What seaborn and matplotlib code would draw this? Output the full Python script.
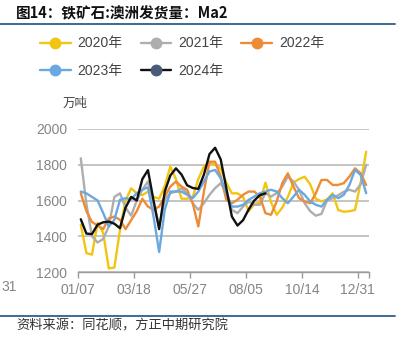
import numpy as np
import pandas as pd
import matplotlib
matplotlib.use("Agg")
import matplotlib.pyplot as plt
from matplotlib.lines import Line2D
import seaborn as sns

# ---------------- data ----------------
tick_labels = ["01/07", "03/18", "05/27", "08/05", "10/14", "12/31"]
tick_pos = [0, 10, 20, 30, 40, 50]
years = ["2020年", "2021年", "2022年", "2023年", "2024年"]

v2020 = [1464, 1306, 1297, 1474, 1420, 1220, 1225, 1435, 1600, 1668, 1640, 1630, 1650, 1620, 1610,
         1680, 1790, 1720, 1610, 1610, 1620, 1720, 1790, 1810, 1800, 1780, 1700, 1640, 1640, 1620,
         1540, 1580, 1590, 1700, 1590, 1520, 1560, 1620, 1700, 1720, 1733, 1690, 1610, 1595, 1605,
         1640, 1547, 1537, 1540, 1547, 1700, 1873]
v2021 = [1836, 1580, 1400, 1365, 1385, 1455, 1620, 1640, 1560, 1515, 1600, 1660, 1706, 1585, 1455,
         1604, 1641, 1650, 1669, 1641, 1585, 1548, 1585, 1632, 1669, 1697, 1641, 1548, 1529, 1566,
         1594, 1576, 1576, 1641, 1622, 1641, 1678, 1734, 1706, 1660, 1585, 1540, 1515, 1525, 1600,
         1613, 1630, 1649, 1660, 1650, 1690, 1800]
v2022 = [1641, 1540, 1480, 1460, 1440, 1500, 1510, 1492, 1440, 1490, 1540, 1610, 1566, 1548, 1566,
         1622, 1678, 1706, 1678, 1660, 1585, 1455, 1650, 1817, 1817, 1734, 1604, 1585, 1604, 1632,
         1650, 1650, 1622, 1529, 1520, 1594, 1697, 1752, 1678, 1613, 1594, 1585, 1641, 1715, 1715,
         1687, 1687, 1697, 1734, 1780, 1752, 1687]
v2023 = [1650, 1640, 1620, 1600, 1530, 1455, 1492, 1604, 1613, 1607, 1641, 1660, 1674, 1510, 1312,
         1548, 1650, 1650, 1650, 1632, 1613, 1650, 1706, 1762, 1771, 1725, 1641, 1566, 1566, 1576,
         1604, 1622, 1641, 1650, 1660, 1650, 1613, 1585, 1622, 1660, 1632, 1594, 1576, 1566, 1604,
         1632, 1613, 1632, 1687, 1771, 1743, 1641]
v2024 = [1495, 1415, 1412, 1465, 1478, 1482, 1470, 1445, 1560, 1620, 1600, 1720, 1770, 1600, 1440,
         1650, 1740, 1780, 1745, 1685, 1670, 1665, 1745, 1860, 1895, 1830, 1670, 1510, 1460, 1490,
         1550, 1600, 1630, 1640]

line_colors = {"2020年": "#F2C511", "2021年": "#AEAEAE", "2022年": "#EE8B37",
               "2023年": "#6AA8E0", "2024年": "#111111"}
marker_colors = {"2020年": "#F2C511", "2021年": "#AEAEAE", "2022年": "#EE8B37",
                 "2023年": "#6AA8E0", "2024年": "#4A5B7A"}

series = {"2020年": v2020, "2021年": v2021, "2022年": v2022, "2023年": v2023, "2024年": v2024}
frames = []
for y, vals in series.items():
    frames.append(pd.DataFrame({"week": np.arange(len(vals)) + 0.5, "value": vals, "year": y}))
df = pd.concat(frames, ignore_index=True)

# ---------------- style ----------------
sns.set_theme(style="white")
plt.rcParams["font.family"] = ["Liberation Sans", "Noto Sans CJK SC"]

W, H = 402, 349
fig = plt.figure(figsize=(W / 100, H / 100), dpi=100)
ax = fig.add_axes([78 / W, 1 - 272 / H, (369 - 78) / W, (272 - 129) / H])

sns.lineplot(data=df, x="week", y="value", hue="year", hue_order=years,
             palette=line_colors, linewidth=1.7, legend=False, ax=ax, zorder=3)

ax.set_xlim(0, 52)
ax.set_ylim(1200, 2000)
ax.set_yticks([1200, 1400, 1600, 1800, 2000])
ax.set_xticks(tick_pos + [52])
ax.set_xticklabels(tick_labels + [""])
ax.set_xlabel("")
ax.set_ylabel("")
ax.yaxis.grid(True, color="#C4C4C4", linewidth=1.4)
ax.xaxis.grid(False)
for s in ["top", "right", "left"]:
    ax.spines[s].set_visible(False)
ax.spines["bottom"].set_color("#9A9A9A")
ax.spines["bottom"].set_linewidth(1.0)
ax.tick_params(axis="x", length=4, width=1, color="#9A9A9A", labelsize=10,
               labelcolor="#858585", pad=4, direction="out", bottom=True)
ax.tick_params(axis="y", length=0, labelsize=10, labelcolor="#858585", pad=8)

# partly visible label at far left
fig.text(1 / W, 1 - 287 / H, "31", ha="left", va="center", fontsize=10, color="#858585")

# ---------------- title and decorations ----------------
fig.text(16 / W, 1 - 13 / H, "图14：铁矿石:澳洲发货量：Ma2", ha="left", va="center",
         fontsize=10.5, color="#111111", family=["Noto Sans CJK SC", "DejaVu Sans"],
         fontweight="bold")
fig.add_artist(Line2D([0, 395 / W], [1 - 23.5 / H] * 2, color="#2E5E8E", linewidth=1.3))
fig.add_artist(Line2D([0, 395 / W], [1 - 315.5 / H] * 2, color="#2E5E8E", linewidth=1.3))
fig.text(16 / W, 1 - 326 / H, "资料来源：同花顺，方正中期研究院", ha="left", va="center",
         fontsize=9.5, color="#333333", style="italic",
         family=["Noto Sans CJK SC", "DejaVu Sans"])
fig.text(63 / W, 1 - 103 / H, "万吨", ha="left", va="center", fontsize=9,
         color="#444444", family=["Noto Sans CJK SC", "DejaVu Sans"])

# ---------------- legend ----------------
order = ["2020年", "2023年", "2021年", "2024年", "2022年"]
handles = [Line2D([0], [0], color=line_colors[y], linewidth=1.7, marker="o",
                  markersize=7.5, markerfacecolor=marker_colors[y],
                  markeredgecolor=marker_colors[y]) for y in order]
fig.legend(handles, order, loc="upper left", bbox_to_anchor=(40 / W, 1 - 36.5 / H),
           ncol=3, frameon=False, fontsize=10, handlelength=2.2, handletextpad=0.5,
           columnspacing=1.3, labelspacing=0.95, borderaxespad=0, borderpad=0,
           labelcolor="#444444")

fig.savefig("out.png", dpi=100)
